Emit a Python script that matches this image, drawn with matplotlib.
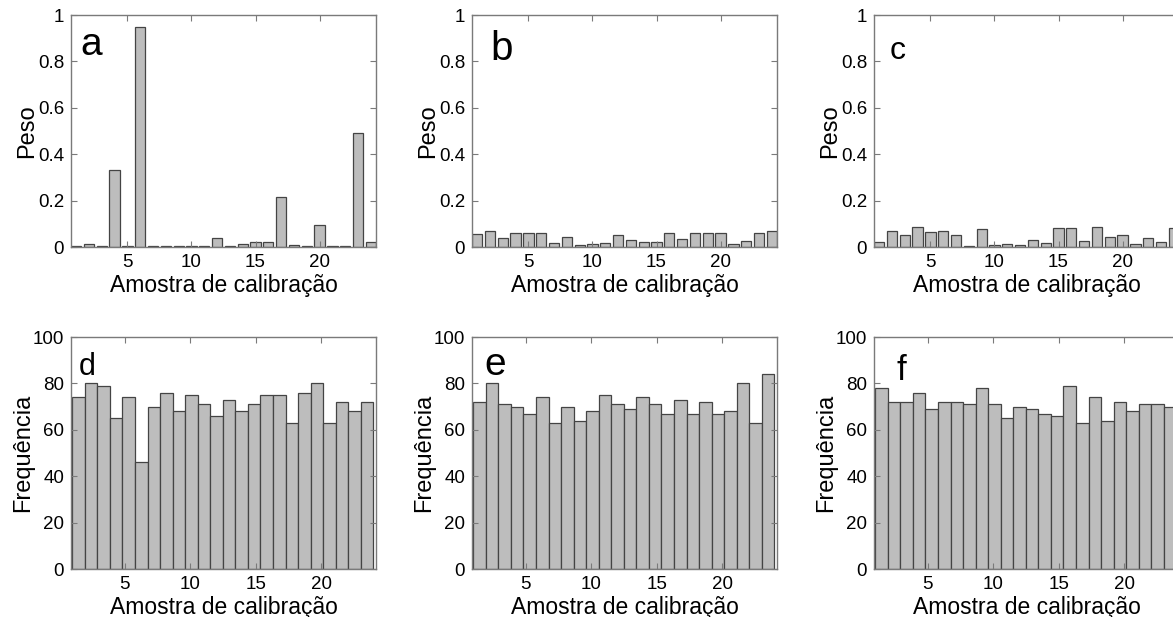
import matplotlib
matplotlib.use("Agg")
import matplotlib.pyplot as plt
import numpy as np

plt.rcParams['font.family'] = ['Liberation Sans', 'DejaVu Sans']

samples = np.arange(1, 25)

peso_a = [0.003, 0.013, 0.003, 0.33, 0.004, 0.95, 0.003, 0.003, 0.003, 0.005, 0.003, 0.039,
          0.003, 0.013, 0.021, 0.021, 0.217, 0.008, 0.003, 0.095, 0.005, 0.003, 0.49, 0.021]
peso_b = [0.055, 0.067, 0.037, 0.06, 0.06, 0.062, 0.019, 0.044, 0.009, 0.013, 0.018, 0.05,
          0.032, 0.023, 0.023, 0.062, 0.033, 0.062, 0.062, 0.06, 0.012, 0.027, 0.062, 0.068]
peso_c = [0.022, 0.068, 0.05, 0.088, 0.063, 0.068, 0.051, 0.005, 0.078, 0.01, 0.013, 0.009,
          0.032, 0.019, 0.08, 0.083, 0.025, 0.088, 0.043, 0.051, 0.015, 0.037, 0.022, 0.08]
freq_d = [74, 80, 79, 65, 74, 46, 70, 76, 68, 75, 71, 66, 73, 68, 71, 75, 75, 63, 76, 80, 63, 72, 68, 72]
freq_e = [72, 80, 71, 70, 67, 74, 63, 70, 64, 68, 75, 71, 69, 74, 71, 67, 73, 67, 72, 67, 68, 80, 63, 84]
freq_f = [78, 72, 72, 76, 69, 72, 72, 71, 78, 71, 65, 70, 69, 67, 66, 79, 63, 74, 64, 72, 68, 71, 71, 70]

panel_letters = ['a', 'b', 'c', 'd', 'e', 'f']
xlabel = 'Amostra de calibração'
ylabel_top = 'Peso'
ylabel_bottom = 'Frequência'
xticks = [5, 10, 15, 20]
yticks_top = [0, 0.2, 0.4, 0.6, 0.8, 1]
yticklabels_top = ['0', '0.2', '0.4', '0.6', '0.8', '1']
yticks_bottom = [0, 20, 40, 60, 80, 100]

W, H = 1173, 617
fig = plt.figure(figsize=(W / 100, H / 100), dpi=100)

lefts = [71, 472, 874]
ax_w = 305
ax_h = 232
tops = [15, 337]

fill = '#bdbdbd'
edge = '#444444'
spine_c = '#7a7a7a'

letter_pos = [(0.03, 0.828, 28), (0.06, 0.806, 29), (0.05, 0.81, 23),
              (0.026, 0.836, 22), (0.04, 0.836, 28), (0.075, 0.815, 25)]

top_data = [peso_a, peso_b, peso_c]
bot_data = [freq_d, freq_e, freq_f]

def style(ax):
    for s in ax.spines.values():
        s.set_color(spine_c)
        s.set_linewidth(1.0)
    ax.tick_params(direction='in', length=4, width=0.8, color=spine_c,
                   top=True, right=True, labelsize=13.5, labelcolor='black', pad=5)

for i in range(3):
    # top row
    ax = fig.add_axes([lefts[i] / W, 1 - (tops[0] + ax_h) / H, ax_w / W, ax_h / H])
    ax.bar(samples, top_data[i], width=0.8, color=fill, edgecolor=edge, linewidth=0.9)
    ax.set_xlim(0.6, 24.4)
    ax.set_ylim(0, 1)
    ax.set_xticks(xticks)
    ax.set_yticks(yticks_top)
    ax.set_yticklabels(yticklabels_top)
    ax.set_xlabel(xlabel, fontsize=16.5, labelpad=2)
    ax.set_ylabel(ylabel_top, fontsize=17, labelpad=0)
    style(ax)
    lx, ly, fs = letter_pos[i]
    ax.text(lx, ly, panel_letters[i], transform=ax.transAxes, fontsize=fs,
            va='baseline', ha='left')

    # bottom row
    ax = fig.add_axes([lefts[i] / W, 1 - (tops[1] + ax_h) / H, ax_w / W, ax_h / H])
    binw = 23 / 24
    centers = 1 + binw / 2 + binw * (samples - 1)
    ax.bar(centers, bot_data[i], width=binw, color=fill, edgecolor=edge, linewidth=0.9)
    ax.set_xlim(0.9, 24.2)
    ax.set_ylim(0, 100)
    ax.set_xticks(xticks)
    ax.set_yticks(yticks_bottom)
    ax.set_xlabel(xlabel, fontsize=16.5, labelpad=2)
    ax.set_ylabel(ylabel_bottom, fontsize=17, labelpad=-1)
    style(ax)
    lx, ly, fs = letter_pos[3 + i]
    ax.text(lx, ly, panel_letters[3 + i], transform=ax.transAxes, fontsize=fs,
            va='baseline', ha='left')

fig.savefig('out.png', dpi=100)
